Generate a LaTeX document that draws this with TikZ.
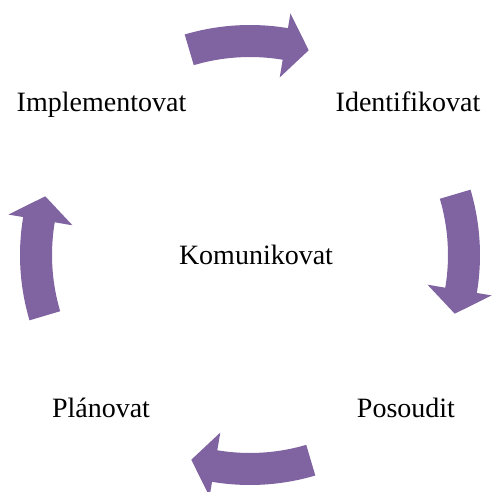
\documentclass[tikz,border=0pt]{standalone}
\usepackage{fontspec}
\setmainfont{Liberation Serif}
\definecolor{arrowpurple}{HTML}{8064A2}
\tikzset{
  cyclearrow/.style={fill=arrowpurple, draw=none},
  steplabel/.style={font=\fontsize{28}{34}\selectfont, anchor=base, inner sep=0pt}
}
\begin{document}
\begin{tikzpicture}[x=1pt,y=1pt]
  \useasboundingbox (0,0) rectangle (493,491);
  \coordinate (hub) at (250,236);

  % four curved block arrows running clockwise round the hub
  \foreach \rot in {0,-90,-180,-270}{
    \begin{scope}[shift={(hub)}, rotate=\rot]
      \fill[cyclearrow]
        (106.5:230) arc[start angle=106.5, end angle=80.5, radius=230]
        -- (80.5:245) -- (74:213) -- (80.5:180) -- (80.5:198)
        arc[start angle=80.5, end angle=106.5, radius=198] -- cycle;
    \end{scope}
  }

  % step labels
  \node[steplabel] (impl)  at (101.5,379) {Implementovat};
  \node[steplabel] (ident) at (408,379)   {Identifikovat};
  \node[steplabel] (posou) at (406,74)    {Posoudit};
  \node[steplabel] (plan)  at (101,74)    {Plánovat};
  \node[steplabel] (komu)  at (256,227)   {Komunikovat};
\end{tikzpicture}
\end{document}
